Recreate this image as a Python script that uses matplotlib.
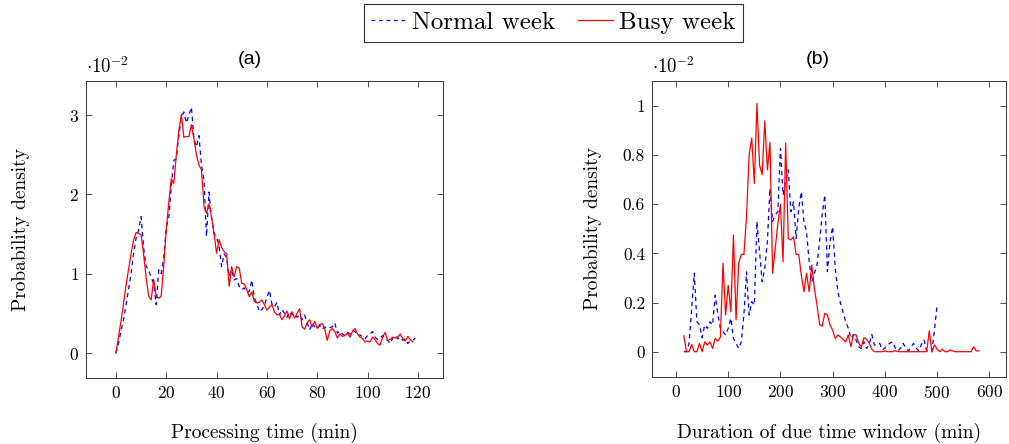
import numpy as np
import matplotlib
matplotlib.use("Agg")
import matplotlib.pyplot as plt
import matplotlib.lines as mlines
from matplotlib.ticker import FuncFormatter

plt.rcParams['font.family'] = 'cmr10'
plt.rcParams['mathtext.fontset'] = 'cm'
plt.rcParams['axes.formatter.use_mathtext'] = True

# (a) processing time, 1 min bins, density in units of 1e-2
proc_time_busy = np.arange(0, 119)
proc_time_normal = np.arange(0, 120)
density_busy_a = [
    0.00, 0.20, 0.40, 0.62, 0.85, 1.05, 1.25, 1.42, 1.52, 1.51,
    1.49, 1.25, 0.95, 0.72, 0.67, 0.93, 0.72, 0.69, 0.72, 1.10,
    1.55, 1.90, 2.20, 2.14, 2.50, 2.80, 3.01, 2.72, 2.73, 2.73,
    2.88, 2.70, 2.50, 2.37, 2.31, 1.85, 1.76, 1.88, 1.72, 1.50,
    1.26, 1.43, 1.33, 1.28, 1.25, 0.84, 1.09, 0.96, 1.09, 1.07,
    0.88, 0.87, 0.80, 0.71, 0.77, 0.65, 0.63, 0.64, 0.67, 0.61,
    0.54, 0.58, 0.61, 0.52, 0.48, 0.49, 0.42, 0.47, 0.53, 0.43,
    0.52, 0.44, 0.50, 0.56, 0.33, 0.30, 0.38, 0.42, 0.33, 0.40,
    0.31, 0.36, 0.37, 0.30, 0.16, 0.28, 0.31, 0.27, 0.19, 0.24,
    0.21, 0.22, 0.25, 0.20, 0.27, 0.31, 0.24, 0.20, 0.18, 0.14,
    0.15, 0.14, 0.20, 0.17, 0.12, 0.10, 0.20, 0.26, 0.16, 0.17,
    0.20, 0.19, 0.20, 0.24, 0.18, 0.15, 0.21, 0.17, 0.14]
density_normal_a = [
    0.00, 0.12, 0.28, 0.42, 0.60, 0.80, 1.00, 1.25, 1.45, 1.55,
    1.72, 1.33, 1.09, 1.05, 0.95, 0.88, 0.61, 1.05, 1.00, 1.20,
    1.59, 1.70, 2.10, 2.43, 2.45, 2.73, 2.98, 3.04, 2.90, 3.00,
    3.10, 2.70, 2.60, 2.74, 2.37, 2.18, 1.47, 2.03, 1.70, 1.51,
    1.46, 1.35, 1.09, 1.25, 1.20, 0.97, 1.05, 0.92, 0.94, 0.84,
    0.80, 0.82, 0.76, 0.78, 0.92, 0.70, 0.62, 0.52, 0.55, 0.60,
    0.70, 0.79, 0.62, 0.58, 0.64, 0.48, 0.55, 0.50, 0.45, 0.52,
    0.48, 0.50, 0.45, 0.48, 0.42, 0.48, 0.38, 0.29, 0.38, 0.33,
    0.31, 0.35, 0.30, 0.33, 0.31, 0.32, 0.33, 0.38, 0.25, 0.28,
    0.24, 0.22, 0.26, 0.24, 0.29, 0.27, 0.22, 0.23, 0.20, 0.18,
    0.22, 0.24, 0.27, 0.20, 0.17, 0.19, 0.22, 0.18, 0.16, 0.12,
    0.19, 0.22, 0.18, 0.20, 0.16, 0.18, 0.12, 0.15, 0.16, 0.19]

# (b) duration of due time window, 5 min bins, density in units of 1e-2
window_busy = np.arange(15, 585, 5)
window_normal = np.arange(15, 505, 5)
density_busy_b = [
    0.065, 0.00, 0.00, 0.03, 0.00, 0.00, 0.034, 0.00, 0.04, 0.027,
    0.04, 0.013, 0.054, 0.043, 0.06, 0.36, 0.15, 0.27, 0.163, 0.475,
    0.13, 0.36, 0.396, 0.396, 0.55, 0.80, 0.87, 0.685, 1.01, 0.76,
    0.72, 0.94, 0.74, 0.852, 0.319, 0.42, 0.52, 0.60, 0.366, 0.85,
    0.461, 0.455, 0.468, 0.396, 0.396, 0.312, 0.244, 0.319, 0.244, 0.353,
    0.258, 0.19, 0.11, 0.104, 0.156, 0.15, 0.108, 0.088, 0.054, 0.068,
    0.06, 0.05, 0.04, 0.068, 0.02, 0.07, 0.068, 0.034, 0.02, 0.057,
    0.05, 0.035, 0.01, 0.0, 0.0, 0.0, 0.0, 0.003, 0.0, 0.0,
    0.0, 0.004, 0.0, 0.0, 0.0, 0.0, 0.0, 0.0, 0.0, 0.0,
    0.0, 0.0, 0.0, 0.0, 0.085, 0.0, 0.027, 0.01, 0.0, 0.01,
    0.0, 0.0, 0.007, 0.003, 0.0, 0.0, 0.0, 0.0, 0.0, 0.0,
    0.0, 0.02, 0.003, 0.004]
density_normal_b = [
    0.0, 0.0, 0.034, 0.176, 0.32, 0.122, 0.109, 0.057, 0.109, 0.095,
    0.122, 0.109, 0.23, 0.156, 0.095, 0.081, 0.068, 0.095, 0.136, 0.054,
    0.034, 0.013, 0.04, 0.15, 0.325, 0.149, 0.204, 0.19, 0.53, 0.407,
    0.285, 0.34, 0.45, 0.665, 0.53, 0.557, 0.57, 0.828, 0.638, 0.692,
    0.74, 0.57, 0.61, 0.461, 0.583, 0.651, 0.529, 0.488, 0.366, 0.285,
    0.319, 0.353, 0.45, 0.56, 0.638, 0.326, 0.448, 0.509, 0.339, 0.244,
    0.197, 0.16, 0.122, 0.095, 0.054, 0.07, 0.047, 0.02, 0.013, 0.04,
    0.013, 0.03, 0.07, 0.027, 0.03, 0.034, 0.007, 0.015, 0.027, 0.035,
    0.041, 0.014, 0.003, 0.015, 0.034, 0.015, 0.003, 0.02, 0.034, 0.015,
    0.003, 0.03, 0.048, 0.003, 0.0, 0.0, 0.088, 0.19]

W, H = 1009, 444
fig = plt.figure(figsize=(W / 100, H / 100), dpi=100)

def px_axes(l, t, r, b):
    return fig.add_axes([l / W, 1 - b / H, (r - l) / W, (b - t) / H])

ax_a = px_axes(86, 81, 443, 378)
ax_b = px_axes(652, 81, 1006, 377)

dash = (0, (3.5, 3))
ax_a.plot(proc_time_normal, density_normal_a, color='blue', lw=0.9, ls=dash)
ax_a.plot(proc_time_busy, density_busy_a, color='red', lw=0.9)
ax_b.plot(window_normal, density_normal_b, color='blue', lw=0.9, ls=dash)
ax_b.plot(window_busy, density_busy_b, color='red', lw=0.9)

ax_a.set_xlim(-11.9, 130)
ax_a.set_ylim(-0.315, 3.43)
ax_a.set_xticks([0, 20, 40, 60, 80, 100, 120])
ax_a.set_yticks([0, 1, 2, 3])

ax_b.set_xlim(-46, 632)
ax_b.set_ylim(-0.103, 1.102)
ax_b.set_xticks([0, 100, 200, 300, 400, 500, 600])
ax_b.set_yticks([0, 0.2, 0.4, 0.6, 0.8, 1.0])
ax_b.yaxis.set_major_formatter(FuncFormatter(lambda v, p: '%g' % round(v, 1)))

for ax in (ax_a, ax_b):
    for s in ax.spines.values():
        s.set_linewidth(0.7)
        s.set_color('#333333')
    ax.tick_params(direction='in', length=4.25, width=0.6, top=True, right=True,
                   labelsize=12.5, color='#333333', pad=5)
    ax.set_ylabel('Probability density', fontsize=14)
    ax.text(0.0, 1.012, r'$\cdot 10^{-2}$', transform=ax.transAxes,
            fontsize=13.5, ha='left', va='bottom')

ax_a.set_xlabel('Processing time (min)', fontsize=14, labelpad=16)
ax_b.set_xlabel('Duration of due time window (min)', fontsize=14, labelpad=16)
ax_a.yaxis.set_label_coords(-0.158, 0.5)
ax_b.yaxis.set_label_coords(-0.142, 0.5)

fig.text(250 / W, 1 - 60 / H, '(a)', family='Liberation Sans', fontsize=14,
         ha='center', va='center')
fig.text(818 / W, 1 - 60 / H, '(b)', family='Liberation Sans', fontsize=14,
         ha='center', va='center')

h_normal = mlines.Line2D([], [], color='blue', lw=0.9, ls=(0, (3, 3)), label='Normal week')
h_busy = mlines.Line2D([], [], color='red', lw=0.9, label='Busy week')
leg = fig.legend(handles=[h_normal, h_busy], loc='center',
                 bbox_to_anchor=(553.5 / W, 1 - 23 / H), ncol=2, fontsize=18,
                 frameon=True, fancybox=False, edgecolor='black',
                 handlelength=1.4, handletextpad=0.25, columnspacing=0.9,
                 borderpad=0.3, borderaxespad=0)
leg.get_frame().set_linewidth(0.8)

fig.savefig('out.png', dpi=100)
